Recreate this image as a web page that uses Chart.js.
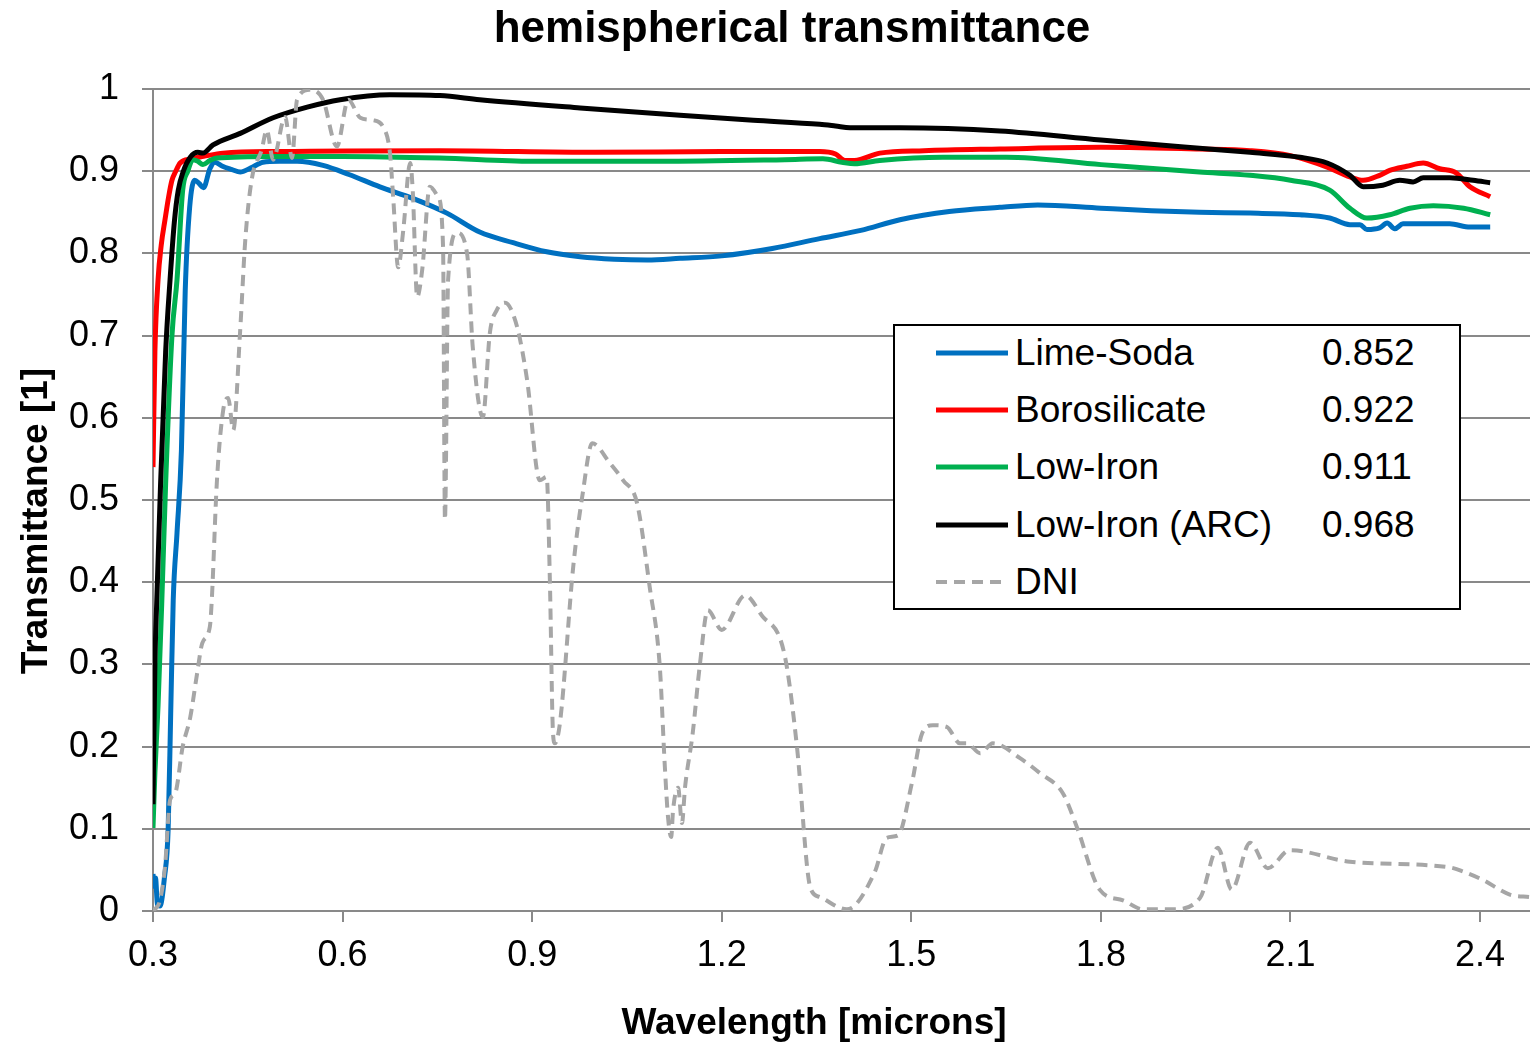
<!DOCTYPE html>
<html>
<head>
<meta charset="utf-8">
<script src="https://cdn.jsdelivr.net/npm/chart.js@4.4.1/dist/chart.umd.min.js"></script>
<style>
  body { margin: 0; background: #fff; }
  #wrap { position: relative; width: 1530px; height: 1044px; font-family: 'Liberation Sans', Arial, sans-serif; }
  #legend { position: absolute; left: 893px; top: 324px; width: 564px; height: 282px; border: 2px solid #000; background: #fff; }
  .row { position: absolute; left: 0; width: 564px; height: 40px; font-size: 37px; line-height: 40px; color: #000; }
  .row svg { position: absolute; left: 41px; top: 15px; }
  .row .name { position: absolute; left: 120px; top: 0; white-space: nowrap; }
  .row .val { position: absolute; left: 427px; top: 0; }
</style>
</head>
<body>
<div id="wrap">
  <canvas id="chart" width="1530" height="1044"></canvas>
  <div id="legend"></div>
</div>
<script>
const chartTitle = 'hemispherical transmittance';
const xTitle = 'Wavelength [microns]';
const yTitle = 'Transmittance [1]';
const xTicks = [0.3, 0.6, 0.9, 1.2, 1.5, 1.8, 2.1, 2.4];

const seriesNames = ['Lime-Soda', 'Borosilicate', 'Low-Iron', 'Low-Iron (ARC)', 'DNI'];
const legendValues = ['0.852', '0.922', '0.911', '0.968', ''];

// wavelength [microns] / transmittance
const limeSodaX = [0.300, 0.302, 0.304, 0.307, 0.311, 0.318, 0.324, 0.328, 0.332, 0.338, 0.345, 0.351, 0.358, 0.366,
  0.373, 0.380, 0.390, 0.398, 0.410, 0.425, 0.438, 0.455, 0.474, 0.500, 0.528, 0.569, 0.610, 0.659, 0.711, 0.765,
  0.817, 0.870, 0.923, 0.976, 1.030, 1.082, 1.134, 1.200, 1.280, 1.355, 1.420, 1.482, 1.560, 1.640, 1.700, 1.800,
  1.880, 1.956, 2.036, 2.115, 2.162, 2.194, 2.210, 2.221, 2.241, 2.253, 2.265, 2.278, 2.352, 2.384, 2.416];
const limeSodaY = [0.045, 0.030, 0.040, 0.008, 0.006, 0.040, 0.100, 0.240, 0.378, 0.460, 0.561, 0.755, 0.856, 0.889,
  0.885, 0.880, 0.903, 0.911, 0.906, 0.902, 0.899, 0.904, 0.911, 0.912, 0.912, 0.907, 0.896, 0.881, 0.867, 0.849,
  0.826, 0.813, 0.802, 0.796, 0.793, 0.792, 0.794, 0.797, 0.806, 0.818, 0.828, 0.841, 0.851, 0.856, 0.859, 0.855,
  0.852, 0.850, 0.849, 0.847, 0.843, 0.835, 0.835, 0.829, 0.831, 0.837, 0.830, 0.836, 0.836, 0.832, 0.832];

const boroX = [0.300, 0.303, 0.308, 0.313, 0.319, 0.325, 0.330, 0.336, 0.343, 0.360, 0.380, 0.411, 0.500, 0.754,
  1.000, 1.200, 1.355, 1.380, 1.395, 1.410, 1.450, 1.520, 1.640, 1.800, 1.956, 2.036, 2.100, 2.158, 2.194, 2.215,
  2.241, 2.257, 2.284, 2.310, 2.336, 2.362, 2.384, 2.416];
const boroY = [0.540, 0.680, 0.768, 0.810, 0.841, 0.870, 0.889, 0.900, 0.910, 0.915, 0.918, 0.922, 0.924, 0.925,
  0.923, 0.924, 0.924, 0.921, 0.913, 0.913, 0.922, 0.925, 0.927, 0.929, 0.927, 0.925, 0.919, 0.905, 0.893, 0.889,
  0.895, 0.901, 0.906, 0.910, 0.903, 0.898, 0.881, 0.869];

const lowIronX = [0.300, 0.303, 0.308, 0.314, 0.320, 0.330, 0.338, 0.347, 0.355, 0.363, 0.371, 0.379, 0.390, 0.401,
  0.490, 0.600, 0.754, 0.900, 1.100, 1.300, 1.360, 1.390, 1.410, 1.450, 1.550, 1.650, 1.800, 1.956, 2.036, 2.100,
  2.162, 2.194, 2.221, 2.257, 2.289, 2.326, 2.374, 2.416];
const lowIronY = [0.101, 0.168, 0.250, 0.378, 0.520, 0.700, 0.768, 0.877, 0.900, 0.914, 0.912, 0.908, 0.913, 0.916,
  0.918, 0.918, 0.916, 0.912, 0.912, 0.914, 0.915, 0.911, 0.909, 0.913, 0.917, 0.917, 0.908, 0.899, 0.895, 0.889,
  0.877, 0.855, 0.843, 0.847, 0.855, 0.858, 0.855, 0.847];

const arcX = [0.300, 0.303, 0.306, 0.312, 0.320, 0.327, 0.334, 0.340, 0.348, 0.359, 0.371, 0.379, 0.395, 0.438,
  0.490, 0.544, 0.596, 0.675, 0.754, 0.817, 0.976, 1.134, 1.250, 1.355, 1.380, 1.403, 1.482, 1.640, 1.800, 1.956,
  2.036, 2.115, 2.158, 2.194, 2.215, 2.246, 2.273, 2.294, 2.310, 2.352, 2.389, 2.416];
const arcY = [0.130, 0.300, 0.378, 0.520, 0.680, 0.768, 0.840, 0.877, 0.900, 0.917, 0.923, 0.922, 0.932, 0.946,
  0.965, 0.978, 0.987, 0.993, 0.992, 0.987, 0.977, 0.968, 0.962, 0.957, 0.955, 0.953, 0.953, 0.949, 0.938, 0.928,
  0.923, 0.917, 0.910, 0.895, 0.881, 0.883, 0.889, 0.887, 0.892, 0.892, 0.889, 0.886];

// normalised direct normal irradiance
const dniX = [0.300, 0.311, 0.319, 0.327, 0.335, 0.347, 0.359, 0.370, 0.378, 0.390, 0.393, 0.401, 0.411, 0.419,
  0.427, 0.438, 0.446, 0.456, 0.472, 0.480, 0.490, 0.509, 0.520, 0.528, 0.548, 0.569, 0.591, 0.609, 0.628, 0.648,
  0.664, 0.675, 0.680, 0.688, 0.696, 0.707, 0.711, 0.718, 0.726, 0.738, 0.751, 0.759, 0.762, 0.767, 0.781, 0.797,
  0.806, 0.822, 0.833, 0.844, 0.857, 0.876, 0.892, 0.912, 0.923, 0.928, 0.933, 0.936, 0.944, 0.965, 0.980, 0.995,
  1.023, 1.044, 1.066, 1.086, 1.102, 1.110, 1.115, 1.120, 1.123, 1.131, 1.137, 1.142, 1.154, 1.165, 1.178, 1.200,
  1.237, 1.265, 1.292, 1.303, 1.319, 1.340, 1.355, 1.398, 1.442, 1.461, 1.479, 1.501, 1.517, 1.534, 1.556, 1.577,
  1.588, 1.609, 1.629, 1.672, 1.703, 1.740, 1.762, 1.798, 1.835, 1.867, 1.914, 1.957, 1.985, 2.007, 2.036, 2.064,
  2.099, 2.194, 2.352, 2.373, 2.404, 2.447, 2.479];
const dniY = [0.000, 0.013, 0.054, 0.135, 0.143, 0.200, 0.236, 0.290, 0.326, 0.346, 0.378, 0.521, 0.609, 0.624,
  0.585, 0.707, 0.816, 0.889, 0.926, 0.950, 0.914, 0.966, 0.916, 0.987, 0.999, 0.987, 0.930, 0.987, 0.965, 0.962,
  0.954, 0.922, 0.869, 0.783, 0.828, 0.910, 0.877, 0.747, 0.780, 0.881, 0.869, 0.808, 0.476, 0.768, 0.825, 0.800,
  0.686, 0.601, 0.703, 0.731, 0.740, 0.711, 0.646, 0.524, 0.528, 0.403, 0.216, 0.204, 0.229, 0.419, 0.508, 0.569,
  0.545, 0.524, 0.496, 0.394, 0.297, 0.175, 0.114, 0.090, 0.123, 0.150, 0.107, 0.151, 0.216, 0.297, 0.366, 0.342,
  0.384, 0.358, 0.332, 0.297, 0.200, 0.029, 0.017, 0.002, 0.047, 0.089, 0.092, 0.156, 0.216, 0.226, 0.224, 0.204,
  0.204, 0.192, 0.204, 0.186, 0.168, 0.143, 0.102, 0.026, 0.013, 0.002, 0.002, 0.016, 0.077, 0.026, 0.083, 0.052,
  0.074, 0.060, 0.053, 0.048, 0.038, 0.020, 0.017];

const colors = ['#0070c0', '#ff0000', '#00b050', '#000000', '#a6a6a6'];
const gridColor = '#898989';

function toPoints(xs, ys) {
  return xs.map((x, i) => ({ x: x, y: ys[i] }));
}

function lineSet(index, xs, ys, order) {
  return {
    label: seriesNames[index],
    data: toPoints(xs, ys),
    borderColor: colors[index],
    borderWidth: 5,
    pointRadius: 0,
    cubicInterpolationMode: 'monotone',
    order: order
  };
}

const datasets = [
  lineSet(0, limeSodaX, limeSodaY, 4),
  lineSet(1, boroX, boroY, 3),
  lineSet(2, lowIronX, lowIronY, 2),
  lineSet(3, arcX, arcY, 1),
  Object.assign(lineSet(4, dniX, dniY, 0), { borderWidth: 4, borderDash: [11, 7] })
];

// titles are placed where the original has them, not centred on the axes
const titlesPlugin = {
  id: 'titles',
  afterDraw(chart) {
    const ctx = chart.ctx;
    ctx.save();
    ctx.fillStyle = '#000';
    ctx.textAlign = 'center';
    ctx.textBaseline = 'alphabetic';
    ctx.font = 'bold 44px "Liberation Sans", Arial, sans-serif';
    ctx.fillText(chartTitle, 792, 42);
    ctx.font = 'bold 37px "Liberation Sans", Arial, sans-serif';
    ctx.fillText(xTitle, 814, 1034);
    ctx.translate(47, 521);
    ctx.rotate(-Math.PI / 2);
    ctx.fillText(yTitle, 0, 0);
    ctx.restore();
  }
};

const tickFont = { family: '"Liberation Sans", Arial, sans-serif', size: 36 };

const config = {
  type: 'line',
  data: { datasets: datasets },
  options: {
    responsive: false,
    devicePixelRatio: 1,
    animation: false,
    layout: { padding: { top: 89, right: 0, left: 0, bottom: 0 } },
    plugins: {
      legend: { display: false },
      title: { display: false },
      tooltip: { enabled: false }
    },
    scales: {
      x: {
        type: 'linear',
        min: 0.3,
        max: 2.479,
        afterBuildTicks: scale => { scale.ticks = xTicks.map(v => ({ value: v })); },
        afterFit: scale => { scale.height = 133; },
        grid: { drawOnChartArea: false, drawTicks: true, tickLength: 11, color: gridColor, lineWidth: 2 },
        border: { display: true, color: gridColor, width: 2 },
        ticks: { font: tickFont, color: '#000', padding: 12, maxRotation: 0, callback: v => v.toFixed(1) }
      },
      y: {
        min: 0,
        max: 1,
        afterFit: scale => { scale.width = 153; },
        grid: { color: gridColor, lineWidth: 2, tickLength: 11 },
        border: { display: true, color: gridColor, width: 2 },
        ticks: { font: tickFont, color: '#000', padding: 23, stepSize: 0.1, callback: v => String(Math.round(v * 10) / 10) }
      }
    }
  },
  plugins: [titlesPlugin]
};

new Chart(document.querySelector('#chart').getContext('2d'), config);

// legend with the averaged transmittance next to each glass
const rowCentres = [27, 84, 141, 199, 256];
const legend = document.querySelector('#legend');
seriesNames.forEach((name, i) => {
  const dash = i === 4 ? 'stroke-dasharray="11 7"' : '';
  const width = i === 4 ? 4 : 5;
  const row = document.createElement('div');
  row.className = 'row';
  row.style.top = (rowCentres[i] - 20) + 'px';
  row.innerHTML = `
    <svg width="72" height="10"><line x1="0" y1="5" x2="72" y2="5" stroke="${colors[i]}" stroke-width="${width}" ${dash}/></svg>
    <span class="name">${name}</span>
    <span class="val">${legendValues[i]}</span>`;
  legend.appendChild(row);
});
</script>
</body>
</html>
